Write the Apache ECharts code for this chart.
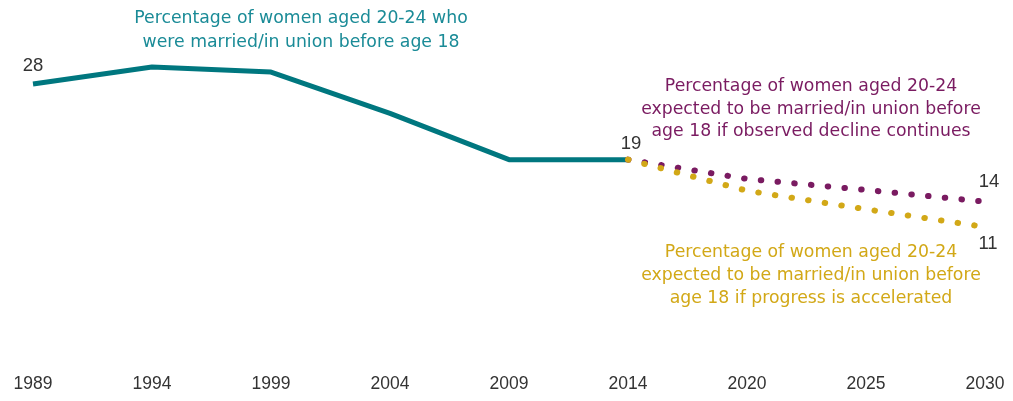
<!DOCTYPE html>
<html>
<head>
<meta charset="utf-8">
<script src="https://cdn.jsdelivr.net/npm/echarts@6/dist/echarts.min.js"></script>
<style>
  html, body { margin: 0; padding: 0; background: #fff; }
  #chart { width: 1013px; height: 401px; }
</style>
</head>
<body>
<div id="chart"></div>
<script>
// Survey years followed by projection years
const years = ['1989', '1994', '1999', '2004', '2009', '2014', '2020', '2025', '2030'];

// Observed share of women aged 20-24 married/in union before 18 (%)
const observed = [28, 30, 29.4, 24.5, 19, 19, null, null, null];

// Projection if the observed decline continues (%)
const declineContinues = [null, null, null, null, null, 19, 16.7, 15.4, 14];

// Projection if progress is accelerated (%)
const accelerated = [null, null, null, null, null, 19, 15.3, 13.1, 11];

const TEAL = '#00777f';
const TEAL_TEXT = '#1a8b97';
const PURPLE = '#7a1b61';
const GOLD = '#d2a817';
const NUM_FONT = '"Liberation Sans", Arial, sans-serif';
const NOTE_FONT = '"DejaVu Sans", Verdana, sans-serif';
const NOTE_SIZE = 17.3;

const chart = echarts.init(document.getElementById('chart'), null, { renderer: 'canvas' });

// Attach a value label to selected points only
function withLabels(data, idxPos) {
  return data.map((v, i) => {
    if (v == null || !(i in idxPos)) return v;
    const p = idxPos[i];
    return {
      value: v,
      label: {
        show: true,
        position: p.pos,
        distance: p.dist,
        offset: p.offset || [0, 0],
        color: '#333',
        fontSize: 18.5,
        fontFamily: NUM_FONT,
        formatter: String(v)
      }
    };
  });
}

const hiddenSymbol = {
  symbol: 'circle',
  symbolSize: 1,
  showSymbol: true,
  showAllSymbol: true,
  itemStyle: { color: 'rgba(0,0,0,0)', borderWidth: 0 }
};

chart.setOption({
  animation: false,
  grid: { left: 33, right: 28, top: 25, bottom: 81.5 },
  xAxis: {
    type: 'category',
    data: years,
    boundaryGap: false,
    axisLine: { show: false },
    axisTick: { show: false },
    splitLine: { show: false },
    axisLabel: { margin: 56, color: '#333', fontSize: 17.5, fontFamily: NUM_FONT }
  },
  yAxis: { type: 'value', min: 0, max: 35, show: false },
  series: [
    {
      type: 'line',
      data: withLabels(observed, { 0: { pos: 'top', dist: 8 } }),
      ...hiddenSymbol,
      lineStyle: { color: TEAL, width: 5 },
      z: 2
    },
    {
      type: 'line',
      data: withLabels(declineContinues, {
        5: { pos: 'top', dist: 6, offset: [3, 0] },
        8: { pos: 'top', dist: 10, offset: [4, 0] }
      }),
      ...hiddenSymbol,
      lineStyle: { color: PURPLE, width: 6, type: [0.5, 16.3], cap: 'round', join: 'round' },
      z: 3
    },
    {
      type: 'line',
      data: withLabels(accelerated, { 8: { pos: 'bottom', dist: 7, offset: [3, 0] } }),
      ...hiddenSymbol,
      lineStyle: { color: GOLD, width: 6, type: [0.5, 16.3], cap: 'round', join: 'round' },
      z: 4
    }
  ],
  graphic: [
    {
      type: 'text', x: 301, y: 6,
      style: {
        text: 'Percentage of women aged 20-24 who\nwere married/in union before age 18',
        fill: TEAL_TEXT, font: NOTE_SIZE + 'px ' + NOTE_FONT, align: 'center', verticalAlign: 'top', lineHeight: 24.4
      }
    },
    {
      type: 'text', x: 811, y: 75.4,
      style: {
        text: 'Percentage of women aged 20-24\nexpected to be married/in union before\nage 18 if observed decline continues',
        fill: PURPLE, font: NOTE_SIZE + 'px ' + NOTE_FONT, align: 'center', verticalAlign: 'top', lineHeight: 22.5
      }
    },
    {
      type: 'text', x: 811, y: 241.3,
      style: {
        text: 'Percentage of women aged 20-24\nexpected to be married/in union before\nage 18 if progress is accelerated',
        fill: GOLD, font: NOTE_SIZE + 'px ' + NOTE_FONT, align: 'center', verticalAlign: 'top', lineHeight: 22.8
      }
    }
  ]
});
</script>
</body>
</html>
